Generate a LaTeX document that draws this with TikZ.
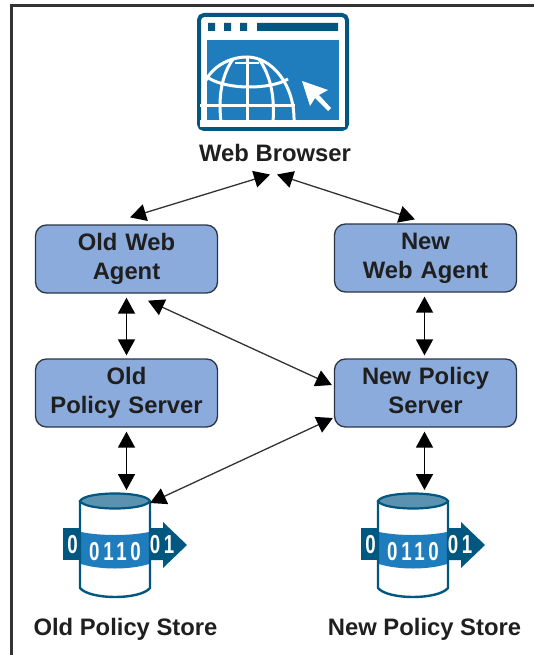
\documentclass[tikz,border=0pt]{standalone}
\usepackage{fontspec}
\setmainfont{Liberation Sans}
\newfontfamily\digitfont[FakeStretch=0.72,LetterSpace=14]{Liberation Sans}
\usetikzlibrary{arrows.meta}
\definecolor{boxfill}{HTML}{8BABDD}
\definecolor{boxline}{HTML}{2B3644}
\definecolor{icondark}{HTML}{00577F}
\definecolor{iconblue}{HTML}{1F7DBD}
\definecolor{icontop}{HTML}{5A92B0}
\tikzset{
  boxnode/.style={draw=boxline,line width=1.3pt,fill=boxfill,rounded corners=11pt,
    minimum width=182pt,minimum height=68pt,inner sep=0pt,text width=178pt,align=center,
    text=black!88,font=\fontsize{23.8}{29}\selectfont\bfseries},
  labelnode/.style={anchor=base,inner sep=0pt,text=black!88,font=\fontsize{23.8}{29}\selectfont\bfseries},
  digits/.style={inner sep=0pt,anchor=base,text=white,font=\digitfont\fontsize{26}{26}\selectfont\bfseries},
  thicklink/.style={draw=black,line width=1.7pt,{Triangle[length=16pt,width=17pt]}-{Triangle[length=16pt,width=17pt]}},
  thinlink/.style={draw=black!80,line width=1.3pt,{Triangle[length=16pt,width=17pt,color=black]}-{Triangle[length=16pt,width=17pt,color=black]}},
  globeline/.style={draw=white,line width=3pt},
}
\newcommand{\storeicon}[3]{%
  \begin{scope}[shift={(#1,0)}]
    \fill[icondark] (63,528) rectangle (82,560);
    \fill[icondark] (148,528) -- (163,528) -- (163,522) -- (187,545) -- (163,568) -- (163,560) -- (148,560) -- cycle;
    \fill[white] (80,501) -- (80,588) .. controls (90,600) and (140,600) .. (150,588) -- (150,501) -- cycle;
    \fill[iconblue] (81,532) .. controls (100,536) and (130,536) .. (149,532) -- (149,564) .. controls (130,570) and (100,570) .. (81,564) -- cycle;
    \draw[icondark,line width=2.4pt] (80,501) -- (80,588) .. controls (90,600) and (140,600) .. (150,588) -- (150,501);
    \draw[icondark,line width=2.2pt,fill=icontop] (80,501) .. controls (85,491) and (145,491) .. (150,501) .. controls (145,511) and (85,511) .. (80,501) -- cycle;
    \node[digits] (#2a) at (72.5,553) {0};
    \node[digits] (#2b) at (115,560) {0110};
    \node[digits] (#2c) at (162,553) {01};
  \end{scope}
  \coordinate (#3) at (#1+126.5,493);
}
\begin{document}
\begin{tikzpicture}[x=1pt,y=-1pt]
\useasboundingbox (0,0) rectangle (534,655);
\fill[white] (0,0) rectangle (534,655);
% frame
\draw[black!80,line width=2.4pt] (11.5,655) -- (11.5,5.5) -- (534,5.5);
% browser icon
\draw[icondark,line width=4pt,rounded corners=5pt] (199,15) rectangle (347,129);
\fill[icondark] (208,23) rectangle (215,31) (224,23) rectangle (231,31) (240,23) rectangle (247,31) (257,23) rectangle (338,31);
\fill[iconblue] (207,40) rectangle (339,120);
\begin{scope}
  \clip (200,40) rectangle (339,120);
  \draw[globeline] (203,120) -- (203,90) .. controls (205,72) and (225,57) .. (247,57) .. controls (272,57) and (295,85) .. (294,122);
  \draw[globeline] (207,77) .. controls (225,90) and (270,90) .. (288,79);
  \draw[globeline] (200,106) -- (295,106);
  \draw[globeline] (247,57) -- (247,122);
  \draw[globeline] (233,59) .. controls (222,75) and (218,95) .. (221,122);
  \draw[globeline] (259,59) .. controls (270,75) and (275,95) .. (273,122);
  \draw[globeline,line width=2pt] (235,63) -- (259,63);
\end{scope}
\fill[white] (200,120) rectangle (345,127);
\fill[white] (302,81) -- (328,90) -- (319,95) -- (331,108) -- (328,111) -- (315,98) -- (310,106) -- cycle;
% stores
\storeicon{0}{oldstoreglyph}{oldstoretop}
\storeicon{298}{newstoreglyph}{newstoretop}
\coordinate (oldstorerim) at (150,503);
% boxes
\node[boxnode] (olda) at (126.5,259) {\strut Old Web\\\strut Agent};
\node[boxnode] (newa) at (425.5,258) {\strut New\\\strut Web Agent};
\node[boxnode] (olds) at (126.5,393) {\strut Old\\\strut Policy Server};
\node[boxnode] (news) at (425.5,393) {\strut New Policy\\\strut Server};
% labels
\node[labelnode] (browser) at (275,162) {Web Browser};
\node[labelnode] (oldstore) at (125.5,635) {Old Policy Store};
\node[labelnode] (newstore) at (424.5,635) {New Policy Store};
% connectors
\draw[thinlink] ([xshift=3.5pt,yshift=7pt]olda.north) -- ([xshift=-5pt,yshift=-21pt]browser.center);
\draw[thinlink] ([xshift=2pt,yshift=-21pt]browser.center) -- ([xshift=-10.5pt,yshift=4pt]newa.north);
\draw[thicklink,shorten <=4pt,shorten >=3pt] (olda.south) -- (olds.north);
\draw[thicklink,shorten <=4pt,shorten >=3pt] ([xshift=-1pt]newa.south) -- ([xshift=-1pt]news.north);
\draw[thicklink,shorten <=4pt] (olds.south) -- ([yshift=3pt]oldstoretop);
\draw[thicklink,shorten <=4pt] ([xshift=-1pt]news.south) -- ([yshift=3pt]newstoretop);
\draw[thinlink] ([xshift=21.5pt,yshift=-7pt]olda.south) -- ([xshift=-2pt,yshift=8pt]news.west);
\draw[thinlink] (oldstorerim) -- ([xshift=-1pt,yshift=-25pt]news.west);
\end{tikzpicture}
\end{document}
